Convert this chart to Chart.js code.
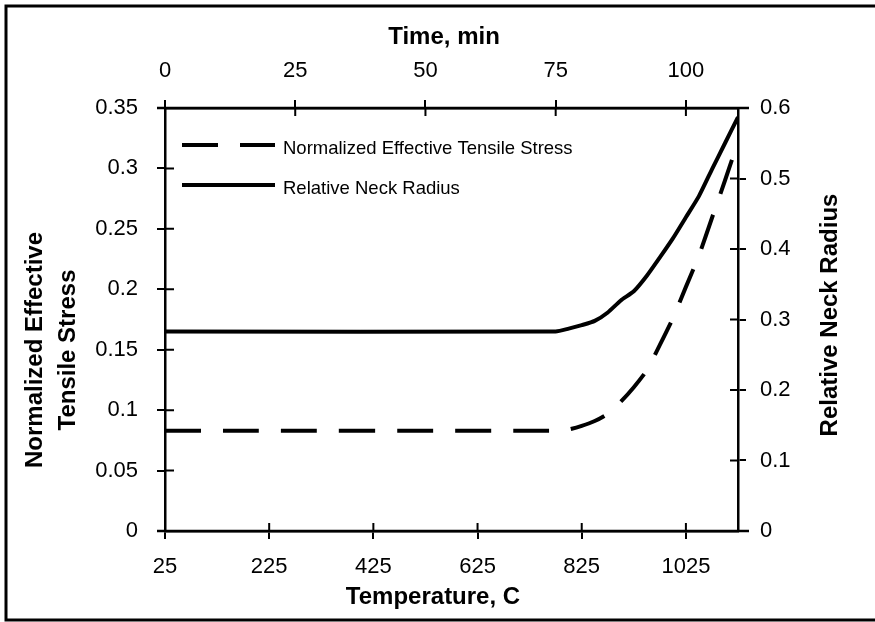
<!DOCTYPE html>
<html>
<head>
<meta charset="utf-8">
<script src="https://cdn.jsdelivr.net/npm/chart.js@4.4.1/dist/chart.umd.min.js"></script>
<style>
  html, body { margin: 0; padding: 0; background: #fff; }
  #wrap { width: 875px; height: 622px; }
</style>
</head>
<body>
<div id="wrap"><canvas id="chart" width="875" height="622"></canvas></div>
<script>
// values
const temperatures = [25, 775, 800, 825, 850, 875, 900, 925, 950, 975, 1000, 1025, 1050, 1075, 1100, 1125];
const tensileStress = [0.083, 0.083, 0.084, 0.087, 0.091, 0.097, 0.107, 0.119, 0.133, 0.154, 0.176, 0.202, 0.228, 0.259, 0.29, 0.322];
const neckRadius = [0.283, 0.283, 0.287, 0.292, 0.298, 0.31, 0.327, 0.34, 0.362, 0.388, 0.415, 0.445, 0.475, 0.513, 0.55, 0.587];
const tempTicks = [25, 225, 425, 625, 825, 1025];
const timeTicks = [0, 25, 50, 75, 100];
const stressTicks = [0, 0.05, 0.1, 0.15, 0.2, 0.25, 0.3, 0.35];
const radiusTicks = [0, 0.1, 0.2, 0.3, 0.4, 0.5, 0.6];

const FONT = '"Liberation Sans", Arial, sans-serif';
const tickFont = { family: FONT, size: 22 };
const fmt = v => String(+v.toFixed(2));

function fixTicks(list) {
  return scale => { scale.ticks = list.map(v => ({ value: v })); };
}

const axisCommon = {
  type: 'linear',
  grid: { drawOnChartArea: false, color: '#000', lineWidth: 2, tickLength: 8 },
  border: { color: '#000', width: 2.5 },
};

// frame, inner tick halves, titles and legend
const decorPlugin = {
  id: 'decor',
  beforeDraw(chart) {
    const ctx = chart.ctx;
    ctx.save();
    ctx.fillStyle = '#fff';
    ctx.fillRect(0, 0, chart.width, chart.height);
    ctx.restore();
  },
  afterDraw(chart) {
    const ctx = chart.ctx;
    const a = chart.chartArea;
    const s = chart.scales;
    ctx.save();
    ctx.strokeStyle = '#000';
    ctx.lineCap = 'butt';

    // tick marks cross the axis: draw the inner half
    ctx.lineWidth = 2;
    ctx.beginPath();
    s.x.ticks.forEach(t => { const p = s.x.getPixelForValue(t.value); ctx.moveTo(p, a.bottom); ctx.lineTo(p, a.bottom - 8); });
    s.x2.ticks.forEach(t => { const p = s.x2.getPixelForValue(t.value); ctx.moveTo(p, a.top); ctx.lineTo(p, a.top + 8); });
    s.y.ticks.forEach(t => { const p = s.y.getPixelForValue(t.value); ctx.moveTo(a.left, p); ctx.lineTo(a.left + 9, p); });
    s.y2.ticks.forEach(t => { const p = s.y2.getPixelForValue(t.value); ctx.moveTo(a.right, p); ctx.lineTo(a.right - 8, p); });
    ctx.stroke();

    // horizontal axes run a little past the vertical ones
    ctx.lineWidth = 2.5;
    ctx.beginPath();
    ctx.moveTo(a.left - 8, a.top); ctx.lineTo(a.right + 11, a.top);
    ctx.moveTo(a.left - 8, a.bottom); ctx.lineTo(a.right + 11, a.bottom);
    ctx.stroke();

    // figure frame (top, left, bottom)
    ctx.lineWidth = 3;
    ctx.beginPath();
    ctx.moveTo(875, 6); ctx.lineTo(6, 6); ctx.lineTo(6, 620); ctx.lineTo(875, 620);
    ctx.stroke();

    // axis titles
    ctx.fillStyle = '#000';
    ctx.font = 'bold 24px ' + FONT;
    ctx.textAlign = 'center';
    ctx.textBaseline = 'middle';
    ctx.fillText('Time, min', 444, 37);
    ctx.fillText('Temperature, C', 433, 597);

    ctx.save();
    ctx.translate(35, 350);
    ctx.rotate(-Math.PI / 2);
    ctx.fillText('Normalized Effective', 0, 0);
    ctx.fillText('Tensile Stress', 0, 33);
    ctx.restore();

    ctx.save();
    ctx.translate(830, 315);
    ctx.rotate(-Math.PI / 2);
    ctx.fillText('Relative Neck Radius', 0, 0);
    ctx.restore();

    // legend inside the plot area
    ctx.font = '18.5px ' + FONT;
    ctx.textAlign = 'left';
    chart.data.datasets.forEach((ds, i) => {
      const y = 145 + i * 40;
      ctx.lineWidth = ds.borderWidth;
      ctx.setLineDash(ds.borderDash || []);
      ctx.beginPath();
      ctx.moveTo(182, y);
      ctx.lineTo(275, y);
      ctx.stroke();
      ctx.setLineDash([]);
      ctx.fillText(ds.label, 283, y + 4);
    });
    ctx.restore();
  }
};

new Chart(document.getElementById('chart'), {
  type: 'line',
  data: {
    datasets: [
      {
        label: 'Normalized Effective Tensile Stress',
        data: temperatures.map((t, i) => ({ x: t, y: tensileStress[i] })),
        xAxisID: 'x',
        yAxisID: 'y',
        borderColor: '#000',
        borderWidth: 4,
        borderDash: [36, 22],
        pointRadius: 0,
        tension: 0.2,
        fill: false
      },
      {
        label: 'Relative Neck Radius',
        data: temperatures.map((t, i) => ({ x: t, y: neckRadius[i] })),
        xAxisID: 'x',
        yAxisID: 'y2',
        borderColor: '#000',
        borderWidth: 4,
        pointRadius: 0,
        tension: 0.2,
        fill: false
      }
    ]
  },
  options: {
    responsive: false,
    animation: false,
    layout: { padding: 0 },
    plugins: {
      legend: { display: false },
      tooltip: { enabled: false }
    },
    scales: {
      x: {
        ...axisCommon,
        position: 'bottom',
        min: 25,
        max: 1125,
        afterBuildTicks: fixTicks(tempTicks),
        afterFit: scale => { scale.height = 91; },
        ticks: { color: '#000', font: tickFont, padding: 15, maxRotation: 0, autoSkip: false, callback: v => String(v) }
      },
      x2: {
        ...axisCommon,
        position: 'top',
        min: 0,
        max: 110,
        afterBuildTicks: fixTicks(timeTicks),
        afterFit: scale => { scale.height = 108; },
        ticks: { color: '#000', font: tickFont, padding: 16, maxRotation: 0, autoSkip: false, callback: v => String(v) }
      },
      y: {
        ...axisCommon,
        position: 'left',
        min: 0,
        max: 0.35,
        afterBuildTicks: fixTicks(stressTicks),
        afterFit: scale => { scale.width = 165; },
        ticks: { color: '#000', font: tickFont, padding: 19, callback: fmt, autoSkip: false }
      },
      y2: {
        ...axisCommon,
        position: 'right',
        min: 0,
        max: 0.6,
        afterBuildTicks: fixTicks(radiusTicks),
        afterFit: scale => { scale.width = 137; },
        ticks: { color: '#000', font: tickFont, padding: 14, callback: fmt, autoSkip: false }
      }
    }
  },
  plugins: [decorPlugin]
});
</script>
</body>
</html>
